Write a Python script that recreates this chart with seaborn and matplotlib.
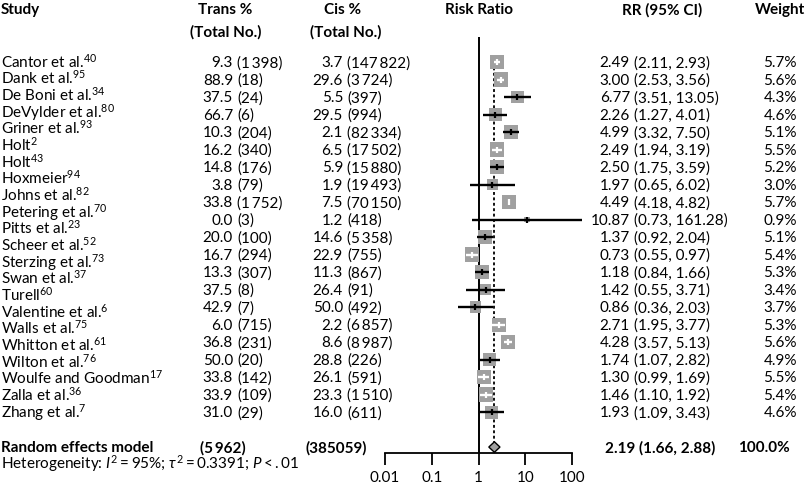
import numpy as np
import pandas as pd
import matplotlib
matplotlib.use("Agg")
import matplotlib.pyplot as plt
import matplotlib.transforms as mtransforms
from matplotlib.ticker import NullLocator
import seaborn as sns

# names column (22 labels) and value columns (21 rows), as in the source figure
studies = ["Cantor et al.", "Dank et al.", "De Boni et al.", "DeVylder et al.", "Griner et al.",
           "Holt", "Holt", "Hoxmeier", "Johns et al.", "Petering et al.", "Pitts et al.",
           "Scheer et al.", "Sterzing et al.", "Swan et al.", "Turell", "Valentine et al.",
           "Walls et al.", "Whitton et al.", "Wilton et al.", "Woulfe and Goodman",
           "Zalla et al.", "Zhang et al."]
refs = ["40", "95", "34", "80", "93", "2", "43", "94", "82", "70", "23",
        "52", "73", "37", "60", "6", "75", "61", "76", "17", "36", "7"]

trans_pct = [9.3, 88.9, 37.5, 66.7, 10.3, 16.2, 14.8, 3.8, 33.8, 0.0, 20.0,
             16.7, 13.3, 37.5, 42.9, 6.0, 36.8, 50.0, 33.8, 33.9, 31.0]
trans_n = [1398, 18, 24, 6, 204, 340, 176, 79, 1752, 3, 100,
           294, 307, 8, 7, 715, 231, 20, 142, 109, 29]
cis_pct = [3.7, 29.6, 5.5, 29.5, 2.1, 6.5, 5.9, 1.9, 7.5, 1.2, 14.6,
           22.9, 11.3, 26.4, 50.0, 2.2, 8.6, 28.8, 26.1, 23.3, 16.0]
cis_n = [147822, 3724, 397, 994, 82334, 17502, 15880, 19493, 70150, 418, 5358,
         755, 867, 91, 492, 6857, 8987, 226, 591, 1510, 611]
rr = [2.49, 3.00, 6.77, 2.26, 4.99, 2.49, 2.50, 1.97, 4.49, 10.87, 1.37,
      0.73, 1.18, 1.42, 0.86, 2.71, 4.28, 1.74, 1.30, 1.46, 1.93]
rr_lo = [2.11, 2.53, 3.51, 1.27, 3.32, 1.94, 1.75, 0.65, 4.18, 0.73, 0.92,
         0.55, 0.84, 0.55, 0.36, 1.95, 3.57, 1.07, 0.99, 1.10, 1.09]
rr_hi = [2.93, 3.56, 13.05, 4.01, 7.50, 3.19, 3.59, 6.02, 4.82, 161.28, 2.04,
         0.97, 1.66, 3.71, 2.03, 3.77, 5.13, 2.82, 1.69, 1.92, 3.43]
weight = [5.7, 5.6, 4.3, 4.6, 5.1, 5.5, 5.2, 3.0, 5.7, 0.9, 5.1,
          5.4, 5.3, 3.4, 3.7, 5.3, 5.6, 4.9, 5.5, 5.4, 4.6]

re_est, re_lo, re_hi = 2.19, 1.66, 2.88
re_weight = 100.0
x_ticks = [0.01, 0.1, 1, 10, 100]
x_tick_labels = ["0.01", "0.1", "1", "10", "100"]

W, H = 810, 490
FS = 11
BOX = "#a0a0a0"

sns.set_theme(style="white")
plt.rcParams["font.family"] = ["Lato", "DejaVu Sans"]
plt.rcParams["mathtext.fontset"] = "custom"
plt.rcParams["mathtext.rm"] = "Lato"
plt.rcParams["mathtext.it"] = "Lato:italic"
plt.rcParams["mathtext.bf"] = "Lato:bold"


def fmt_n(n, sep=True):
    s = f"{n:,}"
    return s.replace(",", "\u2009" if sep else "")


df = pd.DataFrame({"rr": rr, "lo": rr_lo, "hi": rr_hi, "w": weight})
df["row"] = np.arange(len(df))

fig = plt.figure(figsize=(W / 100, H / 100), dpi=100)
ax = fig.add_axes([385 / W, 37 / H, 187 / W, 416 / H])
ax.set_xscale("log")

n = len(df)
re_row = n + 1

# reference line and pooled estimate line
ax.axvline(1, color="black", lw=1.4, zorder=1)
ax.vlines(re_est, 0, re_row - 0.3, color="black", lw=1.3,
          linestyles=(0, (1.6, 1.4)), zorder=1)

# squares, area proportional to weight
k = 6.1  # px per sqrt(weight)
side_max = 0.72 * k * np.sqrt(6)
sns.scatterplot(data=df, x="rr", y="row", size="w", sizes=(0, side_max ** 2),
                size_norm=(0, 6), marker="s", color=BOX, linewidth=0,
                legend=False, ax=ax, zorder=2)

# CI lines: white if they fit inside the square
ppd = 187 / 4
half = 6.0 * np.sqrt(df["w"]) / 2
inside = (ppd * np.log10(df["hi"] / df["rr"]) < half) & (ppd * np.log10(df["rr"] / df["lo"]) < half)
ci_col = np.where(inside, "white", "black")
ax.hlines(df["row"], df["lo"], df["hi"], colors=ci_col, lw=1.7, zorder=3, clip_on=False)
for (_, r), c in zip(df.iterrows(), ci_col):
    ax.plot(r["rr"], r["row"], marker="|", ms=5, mew=1.6, color=c, zorder=4)

# diamond
ax.fill([re_lo, re_est, re_hi, re_est], [re_row, re_row - 0.3, re_row, re_row + 0.3],
        facecolor=BOX, edgecolor="black", lw=1, zorder=3, clip_on=False)

ax.set_xlim(0.01, 100)
ax.set_ylim(re_row + 0.34, -1.43)
ax.set_xticks(x_ticks)
ax.set_xticklabels(x_tick_labels)
ax.xaxis.set_minor_locator(NullLocator())
ax.set_yticks([])
for s in ["top", "left", "right"]:
    ax.spines[s].set_visible(False)
ax.spines["bottom"].set_color("black")
ax.spines["bottom"].set_linewidth(1.3)
ax.tick_params(axis="x", bottom=True, direction="out", length=8.5, width=1.3,
               color="black", pad=4.5, labelsize=FS, labelcolor="black")
ax.set_xlabel("")
ax.set_ylabel("")
ax.patch.set_alpha(0)

# text columns
shift = mtransforms.ScaledTranslation(0, -3.8 / 72, fig.dpi_scale_trans)
tr = mtransforms.blended_transform_factory(fig.transFigure, ax.transData) + shift


def put(xpx, y, s, ha="left", bold=False):
    fig.text(xpx / W, y, s, transform=tr, ha=ha, va="baseline", fontsize=FS,
             fontweight="bold" if bold else "normal", color="black")


def head(xpx, ypx, s, ha="center"):
    fig.text(xpx / W, 1 - ypx / H, s, ha=ha, va="center", fontsize=FS,
             fontweight="bold", color="black")


head(1, 10, "Study", ha="left")
head(225, 10, "Trans %")
head(226, 32, "(Total No.)")
head(343, 10, "Cis %")
head(346, 32, "(Total No.)")
head(479, 10, "Risk Ratio")
head(662, 10, "RR (95% CI)")
head(780, 10, "Weight")

name_rows = np.linspace(0, n - 1, len(studies))
for yy, s, r in zip(name_rows, studies, refs):
    put(1, yy, s + "$^{" + r + "}$")

for i in range(n):
    put(233, i, f"{trans_pct[i]:.1f}", ha="right")
    put(237, i, f"({fmt_n(trans_n[i])})")
    put(343, i, f"{cis_pct[i]:.1f}", ha="right")
    put(347, i, f"({fmt_n(cis_n[i])})")
    put(630, i, f"{rr[i]:.2f}", ha="right")
    put(634, i, f"({rr_lo[i]:.2f}, {rr_hi[i]:.2f})")
    put(797, i, f"{weight[i]:.1f}%", ha="right")

put(1, re_row, "Random effects model", bold=True)
put(200, re_row, f"({fmt_n(sum(trans_n))})", bold=True)
put(305, re_row, f"({fmt_n(sum(cis_n), sep=False)})", bold=True)
put(605, re_row, f"{re_est:.2f} ({re_lo:.2f}, {re_hi:.2f})", bold=True)
put(738, re_row, f"{re_weight:.1f}%", bold=True)
fig.text(1 / W, 1 - 469 / H, "Heterogeneity: $I^2 = 95\\%$; $\\tau^2 = 0.3391$; $P < .01$",
         ha="left", va="baseline", fontsize=FS, color="black")

fig.savefig("out.png", dpi=100)
